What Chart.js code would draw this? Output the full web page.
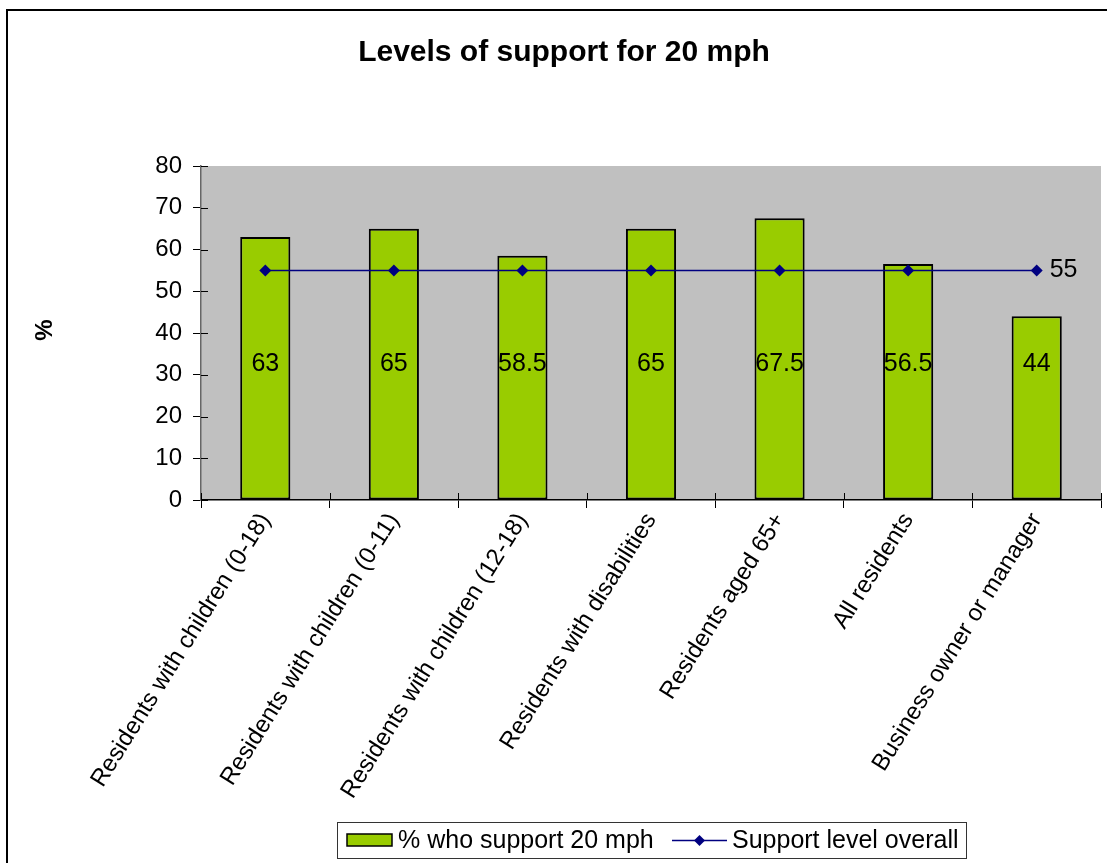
<!DOCTYPE html>
<html>
<head>
<meta charset="utf-8">
<script src="https://cdn.jsdelivr.net/npm/chart.js@4/dist/chart.umd.min.js"></script>
<style>
  html, body { margin: 0; padding: 0; background: #fff; }
  #wrap { width: 1107px; height: 863px; position: relative; }
</style>
</head>
<body>
<div id="wrap"><canvas id="chart"></canvas></div>
<script>
var categories = ['Residents with children (0-18)', 'Residents with children (0-11)', 'Residents with children (12-18)',
    'Residents with disabilities', 'Residents aged 65+', 'All residents', 'Business owner or manager'];
var supportValues = [63, 65, 58.5, 65, 67.5, 56.5, 44];
var overallValues = [55, 55, 55, 55, 55, 55, 55];
var yTicks = [0, 10, 20, 30, 40, 50, 60, 70, 80];

var FONT = '"Liberation Sans", Arial, sans-serif';

// fondo gris del área de trazado, borde exterior, título, leyenda y etiquetas
var decor = {
    id: 'decor',
    beforeDraw: function (chart) {
        var c = chart.ctx, a = chart.chartArea;
        c.save();
        c.fillStyle = '#fff';
        c.fillRect(0, 0, chart.width, chart.height);
        c.fillStyle = '#C0C0C0';
        c.fillRect(a.left, a.top, a.right - a.left, a.bottom - a.top);
        c.restore();
    },
    afterDraw: function (chart) {
        var c = chart.ctx, a = chart.chartArea;
        var x = chart.scales.x, y = chart.scales.y;
        c.save();
        // outer border
        c.strokeStyle = '#000';
        c.lineWidth = 2;
        c.strokeRect(7, 10, 1120, 880);

        // title
        c.fillStyle = '#000';
        c.font = 'bold 30px ' + FONT;
        c.textAlign = 'center';
        c.textBaseline = 'middle';
        c.fillText('Levels of support for 20 mph', 564, 53);

        // y axis title
        c.save();
        c.translate(45, 330);
        c.rotate(-Math.PI / 2);
        c.font = 'bold 24px ' + FONT;
        c.fillText('%', 0, 0);
        c.restore();

        // bar value labels
        c.font = '25px ' + FONT;
        for (var i = 0; i < supportValues.length; i++) {
            c.fillText(String(supportValues[i]), x.getPixelForValue(i), y.getPixelForValue(32.6));
        }
        // line label
        var last = overallValues.length - 1;
        c.textAlign = 'left';
        c.fillText(String(overallValues[last]), x.getPixelForValue(last) + 13, y.getPixelForValue(overallValues[last]));

        // inner halves of the cross ticks
        c.strokeStyle = '#000';
        c.lineWidth = 1;
        c.beginPath();
        yTicks.forEach(function (v) {
            var py = Math.round(y.getPixelForValue(v)) + 0.5;
            c.moveTo(a.left, py);
            c.lineTo(a.left + 7, py);
        });
        for (var k = 0; k <= categories.length; k++) {
            var px = Math.round(a.left + (a.right - a.left) * k / categories.length) + 0.5;
            c.moveTo(px, a.bottom);
            c.lineTo(px, a.bottom - 7);
        }
        c.stroke();

        // legend
        c.strokeStyle = '#333';
        c.lineWidth = 1;
        c.fillStyle = '#fff';
        c.fillRect(337.5, 822.5, 629, 36);
        c.strokeRect(337.5, 822.5, 629, 36);
        c.fillStyle = '#99CC00';
        c.fillRect(347, 834, 45, 12);
        c.strokeStyle = '#000';
        c.lineWidth = 1.5;
        c.strokeRect(347, 834, 45, 12);
        c.fillStyle = '#000';
        c.font = '25px ' + FONT;
        c.textAlign = 'left';
        c.fillText('% who support 20 mph', 398, 841);
        c.strokeStyle = '#000080';
        c.lineWidth = 1.5;
        c.beginPath();
        c.moveTo(672, 840.5);
        c.lineTo(727, 840.5);
        c.stroke();
        c.fillStyle = '#000080';
        c.beginPath();
        c.moveTo(699.5, 835);
        c.lineTo(705, 840.5);
        c.lineTo(699.5, 846);
        c.lineTo(694, 840.5);
        c.closePath();
        c.fill();
        c.fillStyle = '#000';
        c.fillText('Support level overall', 732, 841);
        c.restore();
    }
};

var ctx = document.getElementById('chart').getContext('2d');
var chart = new Chart(ctx, {
    data: {
        labels: categories,
        datasets: [{
            type: 'line',
            label: 'Support level overall',
            data: overallValues,
            borderColor: '#000080',
            borderWidth: 1.5,
            backgroundColor: '#000080',
            pointStyle: 'rectRot',
            pointRadius: 6,
            pointBorderWidth: 0,
            pointBackgroundColor: '#000080',
            order: 0
        }, {
            type: 'bar',
            label: '% who support 20 mph',
            data: supportValues,
            backgroundColor: '#99CC00',
            borderColor: '#000',
            borderWidth: 2,
            borderSkipped: false,
            barPercentage: 0.39,
            categoryPercentage: 1,
            order: 1
        }]
    },
    options: {
        responsive: true,
        maintainAspectRatio: false,
        animation: false,
        layout: { padding: { top: 166, right: 5, left: 0, bottom: 0 } },
        plugins: {
            legend: { display: false },
            title: { display: false },
            tooltip: { enabled: false }
        },
        scales: {
            x: {
                offset: true,
                grid: { display: true, drawOnChartArea: false, tickLength: 8, color: '#000', offset: true },
                border: { color: '#000', width: 1.5 },
                ticks: {
                    color: '#000',
                    font: { family: FONT, size: 24 },
                    minRotation: 58,
                    maxRotation: 58,
                    autoSkip: false,
                    padding: 0
                },
                afterFit: function (s) { s.height = 363; }
            },
            y: {
                min: 0,
                max: 80,
                afterBuildTicks: function (s) { s.ticks = yTicks.map(function (v) { return { value: v }; }); },
                grid: { display: true, drawOnChartArea: false, tickLength: 8, color: '#000' },
                border: { color: '#666', width: 1.5 },
                ticks: {
                    color: '#000',
                    font: { family: FONT, size: 24 },
                    padding: 11
                },
                afterFit: function (s) { s.width = 201; }
            }
        }
    },
    plugins: [decor]
});
</script>
</body>
</html>
